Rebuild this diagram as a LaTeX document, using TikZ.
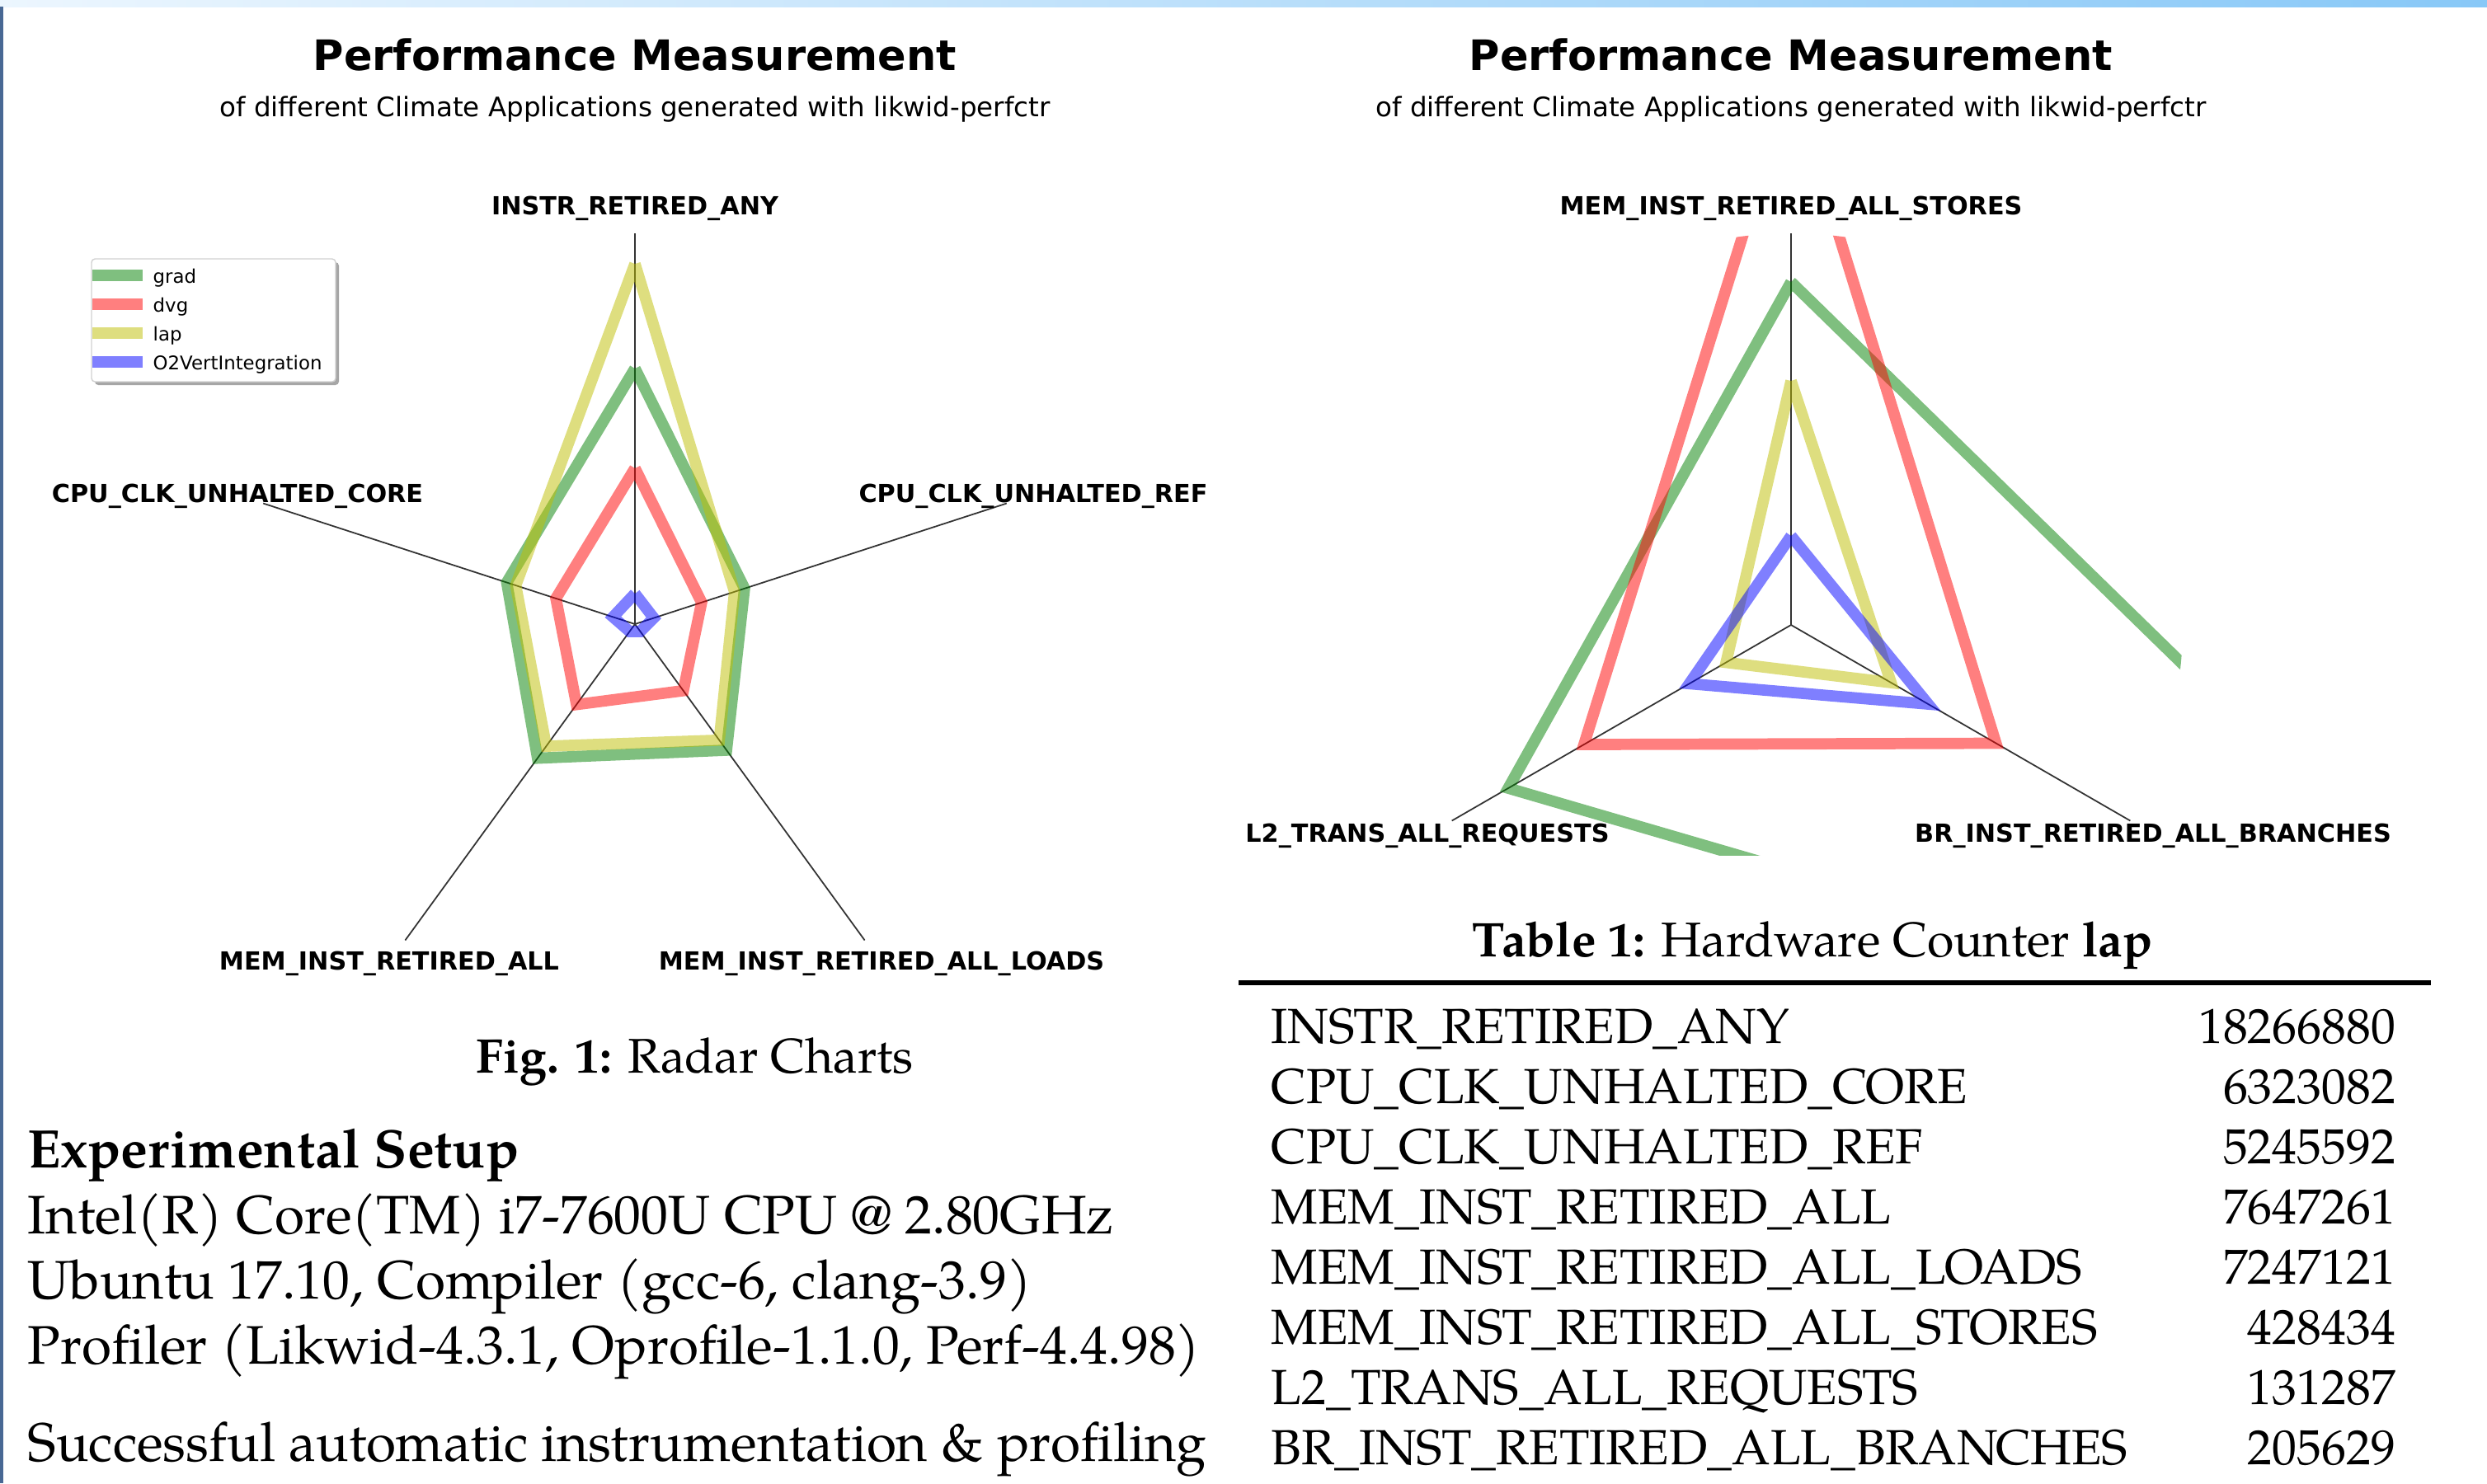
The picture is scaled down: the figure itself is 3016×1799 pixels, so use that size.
\documentclass[tikz,border=0pt]{standalone}
\usepackage{fontspec}
\setmainfont{TeX Gyre Pagella}
\newfontfamily\djv{DejaVu Sans}
\usetikzlibrary{calc}

\definecolor{cgrad}{RGB}{0,128,0}
\definecolor{cdvg}{RGB}{255,0,0}
\definecolor{clap}{RGB}{191,191,0}
\definecolor{cvert}{RGB}{0,0,255}
\definecolor{barleft}{RGB}{236,246,254}
\definecolor{barright}{RGB}{136,200,247}
\definecolor{frameblue}{RGB}{72,104,148}

\tikzset{
  series/.style={draw opacity=0.5, line width=3.9pt, line cap=butt, line join=miter},
  sgrad/.style={series, draw=cgrad},
  sdvg/.style={series, draw=cdvg},
  slap/.style={series, draw=clap},
  svert/.style={series, draw=cvert},
  axisline/.style={draw=black!80, line width=0.5pt},
  axlab/.style={font=\djv\bfseries\fontsize{8.6pt}{10pt}\selectfont, inner sep=0pt, anchor=base},
  charttitle/.style={font=\djv\bfseries\fontsize{14.5pt}{17pt}\selectfont, inner sep=0pt, anchor=base},
  chartsub/.style={font=\djv\fontsize{9.25pt}{11pt}\selectfont, inner sep=0pt, anchor=base},
  legtext/.style={font=\djv\fontsize{6.5pt}{8pt}\selectfont, inner sep=0pt, anchor=base west},
  bodytext/.style={font=\fontsize{18.7pt}{23pt}\selectfont, inner sep=0pt, anchor=base west},
  captext/.style={font=\fontsize{16.8pt}{20pt}\selectfont, inner sep=0pt, anchor=base},
  rowlab/.style={font=\fontsize{17pt}{20pt}\selectfont, inner sep=0pt, anchor=base west},
  rowval/.style={font=\fontsize{17pt}{20pt}\selectfont, inner sep=0pt, anchor=base east},
}

\begin{document}
\begin{tikzpicture}[x=0.01cm, y=-0.01cm]
\useasboundingbox (0,0) rectangle (3016,1799);
\fill[white] (0,0) rectangle (3016,1799);

% page frame: gradient strip on top, dark rule on the left
\shade[left color=barleft, right color=barright] (0,0) rectangle (3016,8);
\fill[frameblue] (0,8) rectangle (4,1799);

% ---------------- left radar chart ----------------
\node[charttitle] (ltitle) at (770,85) {Performance Measurement};
\node[chartsub] (lsub) at (770,141.7) {of different Climate Applications generated with likwid-perfctr};

\begin{scope}[shift={(770,757)}, yscale=-1]
  \coordinate (lc) at (0,0);
  \foreach \a/\n in {90/instr,162/core,234/all,306/loads,18/ref}
    \draw[axisline] (lc) -- (\a:474) coordinate (lax\n);
  \draw[sgrad] (90:310) -- (162:163.5) -- (234:201) -- (306:189) -- (18:139.7) -- (90:310);
  \draw[sdvg]  (90:189) -- (162:100.8) -- (234:120.6) -- (306:99.8) -- (18:85) -- (90:189);
  \draw[slap]  (90:437) -- (162:152) -- (234:183) -- (306:174) -- (18:127) -- (90:437);
  \draw[svert] (90:37) -- (162:28) -- (234:11) -- (306:11) -- (18:24) -- (90:37);
\end{scope}

\node[axlab] (linstr) at (770,260.7) {INSTR\_RETIRED\_ANY};
\node[axlab] (lcore) at (288,609) {CPU\_CLK\_UNHALTED\_CORE};
\node[axlab] (lref) at (1253,609) {CPU\_CLK\_UNHALTED\_REF};
\node[axlab] (lall) at (472,1176) {MEM\_INST\_RETIRED\_ALL};
\node[axlab] (lloads) at (1069,1176) {MEM\_INST\_RETIRED\_ALL\_LOADS};

% legend
\fill[black!35, rounded corners=1.2pt] (115,318) rectangle (411,467);
\draw[fill=white, draw=black!18, rounded corners=1.2pt] (111,314) rectangle (407,463);
\draw[sgrad] (112,334) -- (173,334);
\draw[sdvg]  (112,369) -- (173,369);
\draw[slap]  (112,404) -- (173,404);
\draw[svert] (112,439) -- (173,439);
\node[legtext] (leg1) at (185,343) {grad};
\node[legtext] (leg2) at (185,378) {dvg};
\node[legtext] (leg3) at (185,413) {lap};
\node[legtext] (leg4) at (185,448) {O2VertIntegration};

% ---------------- right radar chart ----------------
\node[charttitle] (rtitle) at (2172,85) {Performance Measurement};
\node[chartsub] (rsub) at (2172,141.7) {of different Climate Applications generated with likwid-perfctr};

\begin{scope}[shift={(2172,758)}, yscale=-1]
  \coordinate (rc) at (0,0);
  \foreach \a/\n in {90/stores,210/ltwo,330/br}
    \draw[axisline] (rc) -- (\a:475) coordinate (rax\n);
  \begin{scope}
    \clip (0,0) circle (475);
    \clip (-600,-279) rectangle (600,600);
    \draw[sgrad] (90:416) -- (210:396) -- (330:1205) -- (90:416);
    \draw[sdvg]  (90:660) -- (210:290) -- (330:287) -- (90:660);
    \draw[slap]  (90:296) -- (210:91) -- (330:140) -- (90:296);
    \draw[svert] (90:108) -- (210:142.5) -- (330:192) -- (90:108);
  \end{scope}
\end{scope}

\node[axlab] (rstores) at (2172,260.7) {MEM\_INST\_RETIRED\_ALL\_STORES};
\node[axlab] (rltwo) at (1731,1021) {L2\_TRANS\_ALL\_REQUESTS};
\node[axlab] (rbr) at (2611,1021) {BR\_INST\_RETIRED\_ALL\_BRANCHES};

% ---------------- caption and setup text ----------------
\node[captext] (figcap) at (843,1301) {\textbf{Fig. 1:} Radar Charts};
\node[bodytext] (setup) at (33,1416) {\bfseries Experimental Setup};
\node[bodytext] (cpu) at (33,1496) {Intel(R) Core(TM) i7-7600U CPU @ 2.80GHz};
\node[bodytext] (os) at (33,1575) {Ubuntu 17.10, Compiler (gcc-6, clang-3.9)};
\node[bodytext] (prof) at (33,1654) {Profiler (Likwid-4.3.1, Oprofile-1.1.0, Perf-4.4.98)};
\node[bodytext] (result) at (33,1772) {Successful automatic instrumentation \& profiling};

% ---------------- counter table ----------------
\node[captext] (tabcap) at (2198,1160) {\textbf{Table 1:} Hardware Counter \textbf{lap}};
\draw[line width=1.7pt] (1502,1192) -- (2948,1192);
\foreach \i/\lab/\val in {
  0/INSTR\_RETIRED\_ANY/18266880,
  1/CPU\_CLK\_UNHALTED\_CORE/6323082,
  2/CPU\_CLK\_UNHALTED\_REF/5245592,
  3/MEM\_INST\_RETIRED\_ALL/7647261,
  4/MEM\_INST\_RETIRED\_ALL\_LOADS/7247121,
  5/MEM\_INST\_RETIRED\_ALL\_STORES/428434,
  6/L2\_TRANS\_ALL\_REQUESTS/131287,
  7/BR\_INST\_RETIRED\_ALL\_BRANCHES/205629} {
  \node[rowlab] (rowl\i) at (1541,{1265+73*\i}) {\lab};
  \node[rowval] (rowv\i) at (2906,{1265+73*\i}) {\val};
}
\end{tikzpicture}
\end{document}
